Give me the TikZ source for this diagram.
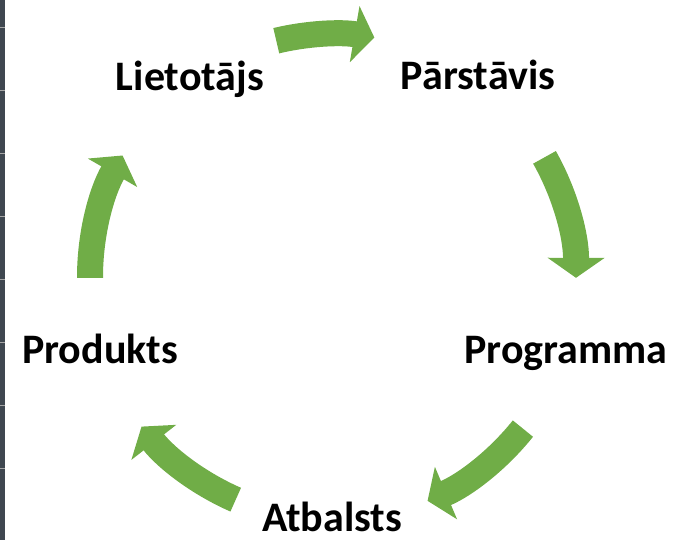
\documentclass[tikz,border=0pt]{standalone}
\usepackage{fontspec}
\setmainfont{Carlito}
\usetikzlibrary{arrows.meta}
\definecolor{cyclegreen}{HTML}{70AD47}
\definecolor{edgegray}{HTML}{3F4750}

\begin{document}
\begin{tikzpicture}[
  x=0.5pt,
  y=0.5pt,
  stage/.style={font=\fontsize{21}{25}\selectfont\bfseries, anchor=base, inner sep=0pt},
  cyc/.style={cyclegreen, line width=13pt, -{Triangle[length=10pt, width=28pt]}}
  ]
    \useasboundingbox (0,0) rectangle (689,540);

    % left border of the screenshot
    \fill[edgegray] (0,0) rectangle (5,540);
    \foreach \t in {72,135,198,261,324,387,450,513}
      \draw[gray!70, line width=0.4pt] (0,\t) -- (5,\t);

    % centre of the cycle
    \coordinate (c) at (333,263);

    % stages
    \node[stage] (lietotajs) at (190,449) {Lietotājs};
    \node[stage] (parstavis) at (478,450) {Pārstāvis};
    \node[stage] (programma) at (566,176) {Programma};
    \node[stage] (atbalsts) at (332,9) {Atbalsts};
    \node[stage] (produkts) at (100,176) {Produkts};

    % tails of the arrows
    \coordinate (t1) at ([shift={(103.5:243)}]c);
    \coordinate (t2) at ([shift={(29.5:243)}]c);
    \coordinate (t3) at ([shift={(-38.6:243)}]c);
    \coordinate (t4) at ([shift={(-113.6:243)}]c);
    \coordinate (t5) at ([shift={(180.2:243)}]c);

    % arrows
    \draw[cyc] (t1) arc[start angle=103.5, end angle=80.2, radius=243];
    \draw[cyc] (t2) arc[start angle=29.5, end angle=-0.2, radius=243];
    \draw[cyc] (t3) arc[start angle=-38.6, end angle=-67.1, radius=243];
    \draw[cyc] (t4) arc[start angle=-113.6, end angle=-142, radius=243];
    \draw[cyc] (t5) arc[start angle=180.2, end angle=150, radius=243];

\end{tikzpicture}
\end{document}
